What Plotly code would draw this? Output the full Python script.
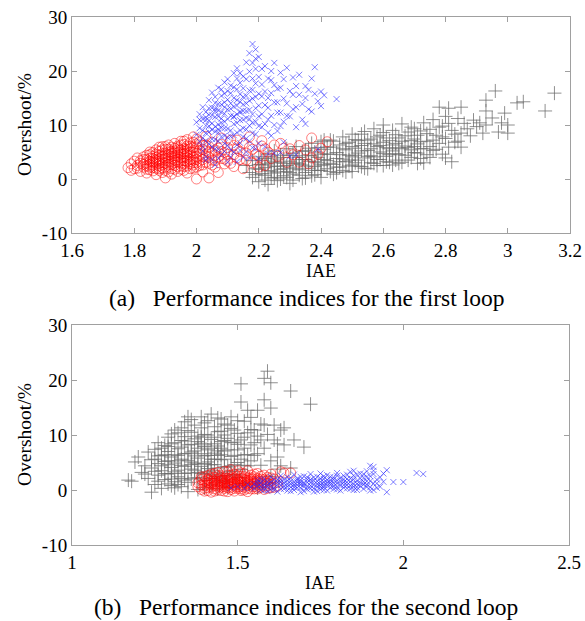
import plotly.graph_objects as go

# ---------------- Loop 1 data (IAE, Overshoot %) ----------------
loop1_red = [
    (1.78,2.1),(1.79,1.6),(1.79,2.8),(1.80,3.3),(1.80,1.9),(1.81,2.5),(1.81,3.9),(1.82,1.4),(1.82,2.9),(1.83,3.6),(1.83,2.2),(1.84,4.4),(1.84,1.1),(1.84,3.0),(1.85,2.6),(1.85,3.8),(1.85,5.0),(1.85,1.7),
    (1.86,4.2),(1.86,2.1),(1.86,3.3),(1.87,5.4),(1.87,0.8),(1.87,2.8),(1.87,4.6),(1.88,3.7),(1.88,1.6),(1.88,5.9),(1.88,2.4),(1.89,4.1),(1.89,3.0),(1.89,6.0),(1.89,1.2),(1.90,4.8),(1.90,2.2),(1.90,3.5),(1.90,0.2),(1.90,5.5),
    (1.91,3.9),(1.91,2.7),(1.91,6.3),(1.91,4.5),(1.92,1.9),(1.92,5.1),(1.92,3.2),(1.92,0.9),(1.93,4.3),(1.93,6.6),(1.93,2.5),(1.93,5.7),(1.94,3.6),(1.94,1.4),(1.94,4.9),(1.94,6.1),(1.95,2.9),(1.95,4.0),(1.95,5.4),(1.95,7.0),(1.95,1.8),
    (1.96,3.4),(1.96,4.7),(1.96,6.4),(1.96,2.3),(1.97,5.2),(1.97,3.9),(1.97,7.3),(1.97,1.1),(1.98,4.4),(1.98,6.0),(1.98,2.8),(1.98,5.6),(1.99,3.5),(1.99,4.9),(1.99,6.8),(1.99,2.0),(2.00,0.0),(2.00,4.1),(2.00,5.9),(2.00,3.0),(2.00,7.4),
    (2.01,4.6),(2.01,2.5),(2.02,5.5),(2.02,3.6),(2.02,1.3),(2.03,6.3),(2.03,4.2),(2.04,2.9),(2.04,0.2),(2.04,5.0),(2.05,3.5),(2.05,6.8),(2.06,4.4),(2.06,2.2),(2.07,5.7),(2.07,1.2),(2.08,3.8),(2.08,6.4),(2.09,4.9),(2.09,2.8),(2.10,5.8),(2.10,3.3),
    (2.11,7.2),(2.12,4.5),(2.12,2.3),(2.13,5.6),(2.14,3.6),(2.15,6.6),(2.15,1.9),(2.16,4.8),(2.17,7.8),(2.18,3.0),(2.18,5.5),(2.20,4.2),(2.21,6.1),(2.22,2.5),(2.24,3.8),(2.25,6.3),(2.23,5.0),
    (2.28,5.7),(2.29,3.1),(2.31,4.5),(2.33,3.1),(2.35,5.4),(2.37,3.9),(2.37,7.6),(2.40,5.7),(2.42,6.9),(2.39,4.6),
    (1.84,2.4),(1.86,3.0),(1.88,4.4),(1.90,3.9),(1.91,5.0),(1.92,4.2),(1.93,3.4),(1.94,5.4),(1.95,4.6),(1.96,5.6),(1.97,4.5),(1.98,3.6),(1.99,5.3),(1.87,3.5),(1.89,2.6),(1.93,4.8),(1.96,3.9),
    (1.81,2.0),(1.82,3.4),(1.83,2.7),(1.83,4.1),(1.84,1.8),(1.84,3.6),(1.85,2.2),(1.85,4.5),(1.85,3.2),(1.86,1.5),(1.86,2.6),(1.86,3.8),(1.86,4.9),(1.87,2.0),(1.87,3.1),(1.87,4.0),(1.88,2.9),(1.88,5.1),(1.88,3.3),(1.88,1.9),
    (1.89,3.6),(1.89,4.7),(1.89,2.1),(1.89,5.4),(1.90,2.9),(1.90,4.3),(1.90,1.6),(1.90,6.0),(1.91,3.3),(1.91,2.2),(1.91,5.5),(1.91,1.3),(1.92,2.7),(1.92,3.8),(1.92,4.7),(1.92,5.9),(1.93,3.0),(1.93,1.8),(1.93,5.2),(1.93,3.9),
    (1.94,2.3),(1.94,3.1),(1.94,4.3),(1.94,5.8),(1.95,3.4),(1.95,2.4),(1.95,4.9),(1.95,6.3),(1.96,2.9),(1.96,4.2),(1.96,5.1),(1.96,1.6),(1.96,7.0),(1.97,3.3),(1.97,4.8),(1.97,2.4),(1.97,6.1),(1.98,3.2),(1.98,4.9),(1.98,1.9),(1.98,6.7),
    (1.99,4.1),(1.99,2.6),(1.99,5.8),(1.99,3.0),(2.00,3.6),(2.00,4.8),(2.00,2.2),(2.00,6.5),(2.01,3.3),(2.01,5.3),(2.01,6.9),(2.02,4.1),(2.02,2.6),(2.02,6.2),(2.03,3.1),(2.03,5.2),(2.04,4.0),(2.04,6.0),(2.05,2.6),(2.05,4.8),
    (2.06,5.4),(2.06,3.4),(2.07,4.1),(2.08,5.1),(2.09,3.7),(2.10,4.6),(2.11,2.9),(2.12,6.2),(2.13,3.9),(2.14,5.1),(2.16,3.5),(2.17,5.9),(2.19,4.6),(2.20,2.2),(2.22,5.6),(2.26,4.2),(2.27,6.6),(2.30,5.6),(2.33,6.2),(2.36,2.8),
    (2.21,7.1),(2.13,7.2),(2.08,7.6),(2.03,7.9),(1.99,7.8),
]
loop1_blue = [
    (2.00,10.5),(2.00,8.2),(2.01,12.0),(2.01,6.9),(2.01,9.4),(2.02,11.1),(2.02,7.6),(2.02,13.3),(2.02,5.2),(2.03,9.9),(2.03,12.4),(2.03,8.5),(2.03,4.1),(2.04,10.8),(2.04,14.6),(2.04,6.5),(2.04,11.9),(2.05,9.1),(2.05,13.2),(2.05,7.4),(2.05,16.0),(2.05,3.6),
    (2.06,11.5),(2.06,8.8),(2.06,14.1),(2.06,5.6),(2.07,12.7),(2.07,10.1),(2.07,16.9),(2.07,7.0),(2.08,9.5),(2.08,13.8),(2.08,11.2),(2.08,4.5),(2.08,15.4),(2.09,12.1),(2.09,8.0),(2.09,17.9),(2.09,10.6),(2.10,14.7),(2.10,6.2),(2.10,12.9),(2.10,9.3),(2.10,18.5),(2.10,3.1),
    (2.11,11.7),(2.11,15.9),(2.11,7.9),(2.12,13.4),(2.12,10.2),(2.12,19.6),(2.12,5.0),(2.13,16.6),(2.13,12.0),(2.13,8.6),(2.13,20.5),(2.14,14.3),(2.14,10.9),(2.14,6.7),(2.14,17.8),(2.15,12.6),(2.15,15.2),(2.15,9.4),(2.15,4.0),(2.15,19.0),
    (2.16,11.3),(2.16,14.0),(2.16,21.6),(2.16,7.5),(2.17,16.4),(2.17,12.8),(2.17,23.3),(2.17,9.9),(2.18,25.0),(2.18,14.9),(2.18,10.4),(2.18,18.6),(2.18,5.8),(2.19,13.1),(2.19,20.4),(2.19,24.0),(2.19,8.3),(2.20,15.8),(2.20,11.6),(2.20,22.6),(2.20,3.8),
    (2.21,17.5),(2.21,9.6),(2.22,13.7),(2.22,20.9),(2.22,6.0),(2.23,15.0),(2.23,11.0),(2.24,18.3),(2.24,8.0),(2.25,14.2),(2.25,21.5),(2.25,4.8),(2.26,12.3),(2.26,16.7),(2.27,9.8),(2.27,19.7),(2.28,14.9),(2.28,6.8),(2.29,20.6),(2.29,11.7),(2.30,16.3),(2.30,4.2),
    (2.31,18.8),(2.31,12.9),(2.32,9.6),(2.33,15.6),(2.33,19.3),(2.34,13.9),(2.35,17.2),(2.35,10.2),(2.36,16.5),(2.37,12.5),(2.38,20.7),(2.38,15.8),(2.39,14.4),(2.40,13.5),(2.40,16.2),(2.39,5.5),(2.45,14.8),
    (2.03,10.9),(2.06,12.6),(2.08,10.4),(2.11,13.0),(2.12,11.6),(2.14,12.3),(2.16,9.2),(2.09,14.2),(2.13,14.6),(2.07,8.6),
    (2.01,11.0),(2.02,9.0),(2.02,6.0),(2.03,7.1),(2.03,11.4),(2.04,8.7),(2.04,9.8),(2.04,13.1),(2.05,10.3),(2.05,11.8),(2.05,5.9),(2.06,9.7),(2.06,13.0),(2.06,15.2),(2.06,7.3),(2.07,11.6),(2.07,13.9),(2.07,9.2),(2.07,5.5),
    (2.08,12.4),(2.08,16.6),(2.08,7.8),(2.09,9.4),(2.09,13.3),(2.09,15.8),(2.09,6.6),(2.10,11.1),(2.10,16.3),(2.10,7.7),(2.11,9.0),(2.11,14.0),(2.11,17.3),(2.11,5.4),(2.12,11.5),(2.12,15.0),(2.12,8.1),(2.12,17.0),
    (2.13,10.4),(2.13,13.6),(2.13,18.6),(2.13,6.3),(2.14,9.0),(2.14,12.5),(2.14,15.7),(2.14,19.6),(2.15,11.0),(2.15,13.8),(2.15,7.8),(2.15,16.8),(2.16,12.6),(2.16,15.4),(2.16,18.5),(2.16,5.0),
    (2.17,11.1),(2.17,14.5),(2.17,19.9),(2.17,7.0),(2.18,12.0),(2.18,16.5),(2.18,21.5),(2.18,8.5),(2.19,10.6),(2.19,15.2),(2.19,17.7),(2.19,22.3),(2.20,9.8),(2.20,13.6),(2.20,18.9),(2.20,6.6),
    (2.21,12.0),(2.21,15.3),(2.21,20.4),(2.22,10.2),(2.22,16.2),(2.23,13.2),(2.23,18.6),(2.23,8.6),(2.24,11.7),(2.24,15.9),(2.24,20.0),(2.25,10.0),(2.25,17.4),(2.26,14.2),(2.26,8.9),(2.27,12.3),(2.27,16.9),
    (2.28,10.6),(2.28,18.5),(2.29,14.0),(2.30,11.6),(2.31,15.6),(2.32,17.2),(2.32,13.3),(2.34,11.0),(2.35,15.0),(2.36,12.9),(2.37,18.6),(2.41,15.5),
    (2.03,3.5),(2.07,3.8),(2.11,4.1),(2.13,3.2),(2.17,3.9),(2.06,2.6),(2.09,5.1),(2.14,5.3),(2.19,5.6),(2.23,4.7),(2.27,4.9),(2.32,4.5),
]
loop1_gray = [
    (2.16,2.5),(2.17,1.2),(2.18,3.4),(2.18,0.3),(2.19,1.9),(2.20,4.1),(2.20,-0.5),(2.20,2.7),(2.21,1.0),(2.21,3.5),(2.22,0.7),(2.22,2.1),(2.23,4.6),(2.23,-1.0),(2.23,1.5),(2.24,3.0),(2.24,0.2),(2.25,2.4),(2.25,5.2),(2.25,1.1),
    (2.26,3.7),(2.26,-0.3),(2.27,1.8),(2.27,4.4),(2.28,0.6),(2.28,2.9),(2.29,5.6),(2.29,1.4),(2.30,3.3),(2.30,-0.8),(2.30,2.2),(2.31,4.8),(2.31,0.9),(2.32,3.0),(2.32,6.0),(2.33,1.7),(2.33,4.0),(2.34,0.1),(2.34,2.6),(2.35,5.3),(2.35,3.6),(2.35,1.2),
    (2.36,4.4),(2.36,2.0),(2.37,6.6),(2.37,0.6),(2.38,3.2),(2.38,5.0),(2.39,1.6),(2.39,4.0),(2.40,6.9),(2.40,2.6),(2.40,0.3),(2.41,5.5),(2.41,3.6),(2.42,1.9),(2.42,4.6),(2.43,7.2),(2.43,2.9),(2.44,0.9),(2.44,5.9),(2.45,3.8),(2.45,2.2),
    (2.46,6.3),(2.46,4.5),(2.47,1.6),(2.47,7.8),(2.48,3.2),(2.48,5.4),(2.49,2.4),(2.49,6.8),(2.50,4.1),(2.50,8.3),(2.50,1.4),(2.51,5.7),(2.51,3.0),(2.52,7.1),(2.52,4.8),(2.53,2.3),(2.53,6.2),(2.54,8.8),(2.54,3.9),(2.55,5.3),(2.55,1.9),
    (2.56,7.4),(2.56,4.3),(2.57,2.9),(2.57,9.3),(2.58,6.0),(2.58,3.6),(2.59,5.0),(2.59,8.1),(2.60,2.5),(2.60,6.8),(2.60,10.0),(2.61,4.2),(2.61,7.6),(2.62,5.6),(2.62,3.1),(2.63,9.0),(2.63,6.3),(2.64,4.7),(2.64,8.2),(2.65,2.9),(2.65,5.8),
    (2.66,7.0),(2.66,10.2),(2.67,4.4),(2.67,6.1),(2.68,8.7),(2.68,3.5),(2.69,5.4),(2.69,9.6),(2.70,7.4),(2.70,4.9),(2.71,6.5),(2.71,2.9),(2.72,8.9),(2.72,5.6),(2.73,3.0),(2.73,10.4),(2.74,7.0),(2.74,4.5),(2.75,6.0),(2.75,9.2),
    (2.76,11.0),(2.76,5.3),(2.77,8.1),(2.78,13.3),(2.78,6.6),(2.79,9.8),(2.80,3.9),(2.80,11.6),(2.80,7.5),(2.81,13.1),(2.82,3.2),(2.82,9.0),(2.83,6.8),(2.84,11.2),(2.85,13.3),(2.85,8.5),(2.85,5.9),(2.86,10.3),(2.88,8.0),(2.90,9.7),
    (2.91,10.4),(2.92,8.5),(2.93,12.6),(2.93,14.6),(2.95,11.3),(2.96,16.3),(2.97,8.7),(2.98,10.4),(2.99,12.2),(3.00,8.5),(3.00,10.0),(3.03,14.1),(3.05,14.3),(3.12,12.6),(3.15,15.9),
    (2.19,0.8),(2.20,1.8),(2.21,2.6),(2.22,3.8),(2.22,-0.2),(2.23,2.8),(2.24,1.5),(2.24,4.1),(2.25,0.3),(2.25,3.3),(2.26,1.3),(2.26,2.3),(2.27,0.0),(2.27,3.1),(2.28,1.9),(2.28,4.0),(2.29,2.5),(2.29,0.3),(2.30,1.2),(2.30,4.4),
    (2.31,2.8),(2.31,-0.2),(2.32,1.9),(2.32,4.3),(2.33,2.8),(2.33,0.7),(2.34,3.6),(2.34,5.1),(2.35,2.4),(2.35,0.2),(2.36,3.3),(2.36,5.7),(2.37,1.6),(2.37,4.3),(2.38,2.3),(2.38,0.8),(2.39,3.0),(2.39,5.8),(2.40,1.6),(2.40,4.6),
    (2.41,2.6),(2.41,7.2),(2.42,3.4),(2.42,5.9),(2.43,1.4),(2.43,4.6),(2.44,2.7),(2.44,7.0),(2.45,4.9),(2.45,1.2),(2.46,3.2),(2.46,2.2),(2.47,5.6),(2.47,3.7),(2.48,1.3),(2.48,6.6),(2.49,4.4),(2.49,3.5),(2.50,2.6),(2.50,6.0),
    (2.51,4.4),(2.51,7.3),(2.52,2.4),(2.52,3.5),(2.53,5.2),(2.53,8.3),(2.54,2.0),(2.54,6.6),(2.55,4.2),(2.55,7.2),(2.56,3.0),(2.56,5.6),(2.57,6.5),(2.57,4.1),(2.58,2.5),(2.58,7.8),(2.59,3.6),(2.59,6.2),(2.60,4.7),(2.60,8.6),
    (2.61,3.2),(2.61,5.8),(2.62,7.1),(2.62,4.5),(2.63,2.6),(2.63,5.2),(2.64,6.6),(2.64,3.5),(2.65,7.6),(2.65,4.5),(2.66,5.6),(2.66,3.1),(2.67,8.0),(2.68,5.8),(2.69,4.0),(2.69,7.1),(2.70,6.0),(2.70,9.3),(2.71,4.8),(2.71,8.1),
    (2.72,3.8),(2.72,6.9),(2.73,5.6),(2.74,8.4),(2.75,4.0),(2.76,7.2),(2.77,5.5),(2.78,9.6),(2.79,4.6),(2.79,7.8),(2.81,5.9),(2.81,10.3),(2.83,8.3),(2.84,7.0),(2.87,9.3),(2.89,10.9),(2.93,10.0),
]

# ---------------- Loop 2 data (IAE, Overshoot %) ----------------
loop2_gray = [
    (1.17,1.8),(1.18,1.6),(1.19,5.1),(1.20,6.0),(1.21,3.2),(1.22,4.4),(1.23,2.1),(1.23,6.9),(1.24,-0.4),(1.24,4.0),(1.25,1.0),(1.25,5.6),(1.25,7.4),(1.26,2.7),
    (1.26,4.8),(1.27,0.3),(1.27,6.3),(1.27,3.5),(1.28,8.1),(1.28,1.9),(1.28,5.2),(1.29,9.6),(1.29,2.9),(1.29,7.0),(1.30,4.1),(1.30,0.8),(1.30,10.2),(1.30,6.0),(1.31,3.3),(1.31,8.6),(1.31,1.5),(1.32,5.3),(1.32,7.5),(1.32,2.4),(1.32,10.4),
    (1.33,4.5),(1.33,0.6),(1.33,9.0),(1.34,6.6),(1.34,3.0),(1.34,12.4),(1.35,5.4),(1.35,1.4),(1.35,8.2),(1.35,13.3),(1.36,3.8),(1.36,10.5),(1.36,6.9),(1.37,2.2),(1.37,4.9),(1.37,9.3),(1.38,7.6),(1.38,0.1),(1.38,5.8),(1.38,3.2),(1.39,13.3),(1.39,11.3),
    (1.39,4.3),(1.39,8.5),(1.40,6.2),(1.40,1.8),(1.40,10.1),(1.40,2.9),(1.41,7.3),(1.41,5.1),(1.41,12.6),(1.42,3.6),(1.42,9.2),(1.42,0.9),(1.43,6.7),(1.43,11.5),(1.43,4.6),(1.44,13.1),(1.44,2.4),(1.44,8.0),(1.45,5.5),(1.45,10.7),(1.45,3.1),
    (1.46,7.1),(1.46,12.0),(1.46,1.6),(1.47,9.4),(1.47,4.2),(1.48,6.1),(1.48,11.2),(1.48,13.3),(1.49,2.8),(1.49,8.7),(1.50,5.0),(1.50,10.3),(1.50,7.3),(1.51,19.3),(1.51,16.0),(1.51,3.7),(1.52,9.6),(1.52,12.5),(1.52,6.4),
    (1.53,14.5),(1.53,4.4),(1.54,8.2),(1.54,11.0),(1.55,6.3),(1.56,14.5),(1.56,9.8),(1.57,9.1),(1.57,4.5),(1.58,16.4),(1.58,11.8),(1.58,20.3),(1.59,21.6),(1.60,14.9),(1.60,19.5),(1.61,9.1),(1.62,6.0),(1.63,10.9),(1.64,8.2),(1.64,11.3),(1.66,4.0),(1.66,18.0),(1.67,9.1),(1.70,7.8),(1.72,15.6),
    (1.47,0.5),(1.52,1.2),(1.56,0.4),(1.60,2.5),(1.62,3.8),
    (1.31,6.4),(1.33,7.8),(1.36,4.6),(1.38,9.8),(1.40,7.9),(1.42,5.6),(1.44,6.3),(1.46,9.0),(1.48,4.4),(1.34,8.9),(1.37,6.2),(1.41,3.9),(1.43,8.4),(1.29,4.6),(1.45,7.6),
    (1.22,2.9),(1.24,5.5),(1.25,3.4),(1.26,6.2),(1.26,1.6),(1.27,4.4),(1.27,7.6),(1.28,3.0),(1.28,6.4),(1.29,1.1),(1.29,5.3),(1.30,3.0),(1.30,8.4),(1.31,4.9),(1.31,0.4),(1.32,6.3),(1.32,3.6),(1.33,2.1),(1.33,5.6),(1.33,11.3),
    (1.34,4.3),(1.34,1.8),(1.34,9.7),(1.35,3.1),(1.35,6.6),(1.35,10.8),(1.36,2.0),(1.36,5.1),(1.36,8.3),(1.37,7.1),(1.37,3.6),(1.37,11.8),(1.38,4.7),(1.38,8.8),(1.38,2.2),(1.39,6.6),(1.39,3.0),(1.39,9.6),(1.40,4.8),(1.40,8.2),
    (1.40,12.2),(1.41,3.3),(1.41,6.3),(1.41,10.0),(1.42,4.6),(1.42,7.6),(1.42,2.1),(1.43,5.6),(1.43,9.6),(1.43,2.7),(1.44,7.1),(1.44,4.0),(1.44,10.6),(1.45,6.4),(1.45,2.0),(1.45,8.8),(1.46,4.2),(1.46,5.6),(1.46,10.0),(1.47,7.3),
    (1.47,2.6),(1.47,11.8),(1.48,8.6),(1.48,3.4),(1.49,6.3),(1.49,10.9),(1.49,4.6),(1.50,8.3),(1.50,2.3),(1.50,12.6),(1.51,5.6),(1.51,9.1),(1.52,7.6),(1.52,4.5),(1.53,10.4),(1.53,6.4),(1.54,5.3),(1.54,13.2),(1.55,8.6),(1.55,10.9),
    (1.56,6.6),(1.57,12.0),(1.58,7.6),(1.59,10.1),(1.60,5.3),(1.61,11.8),(1.62,8.4),(1.63,4.4),(1.29,7.9),(1.31,10.9),(1.36,12.8),(1.42,13.8),(1.45,12.9),(1.26,8.6),(1.40,0.4),(1.44,0.2),(1.35,-0.3),(1.30,2.0),(1.32,1.0),
]
loop2_red = [
    (1.38,0.6),(1.38,1.3),(1.39,0.1),(1.39,1.9),(1.40,0.8),(1.40,2.4),(1.40,-0.2),(1.41,1.4),(1.41,0.4),(1.41,2.0),(1.42,0.9),(1.42,2.9),(1.42,-0.4),(1.43,1.6),(1.43,0.2),(1.43,2.3),(1.44,1.1),(1.44,3.2),(1.44,0.5),(1.45,1.8),(1.45,-0.1),(1.45,2.6),(1.45,0.9),
    (1.46,1.4),(1.46,0.3),(1.46,2.1),(1.46,3.4),(1.47,0.8),(1.47,1.7),(1.47,-0.3),(1.47,2.7),(1.48,1.2),(1.48,0.1),(1.48,2.2),(1.48,3.7),(1.49,0.7),(1.49,1.5),(1.49,2.9),(1.49,-0.2),(1.50,1.0),(1.50,2.0),(1.50,0.3),(1.50,3.5),
    (1.51,1.3),(1.51,0.6),(1.51,2.5),(1.52,0.0),(1.52,1.8),(1.52,3.0),(1.52,0.9),(1.53,1.4),(1.53,2.2),(1.53,-0.3),(1.54,0.7),(1.54,1.9),(1.54,2.7),(1.55,1.1),(1.55,0.2),(1.55,2.4),(1.56,1.5),(1.56,0.5),(1.56,3.0),(1.57,0.9),(1.57,2.0),
    (1.58,1.3),(1.58,0.1),(1.58,2.7),(1.59,0.8),(1.59,1.8),(1.60,2.2),(1.60,0.4),(1.61,1.2),(1.62,0.7),(1.63,3.3),(1.64,3.1),(1.66,3.1),(1.60,2.9),
    (1.42,1.2),(1.44,2.0),(1.46,0.9),(1.48,1.6),(1.50,1.5),(1.52,2.0),(1.53,0.8),(1.55,1.6),(1.57,1.2),(1.40,1.6),(1.43,0.8),(1.45,1.3),(1.47,1.1),(1.49,1.0),(1.51,0.2),(1.54,1.3),(1.56,2.1),(1.58,1.9),
    (1.39,0.9),(1.40,1.2),(1.40,0.3),(1.41,1.8),(1.41,0.9),(1.41,-0.1),(1.42,0.5),(1.42,1.6),(1.42,2.2),(1.43,1.2),(1.43,-0.2),(1.43,1.9),(1.44,0.8),(1.44,1.5),(1.44,2.6),(1.44,0.0),(1.45,0.5),(1.45,1.6),(1.45,2.2),(1.46,0.6),
    (1.46,1.2),(1.46,1.8),(1.46,-0.2),(1.47,0.4),(1.47,1.4),(1.47,2.1),(1.48,0.5),(1.48,1.0),(1.48,1.9),(1.48,2.7),(1.49,0.3),(1.49,1.3),(1.49,2.2),(1.50,0.6),(1.50,1.2),(1.50,1.8),(1.50,2.6),(1.51,-0.1),(1.51,0.9),(1.51,1.6),
    (1.51,2.1),(1.52,0.5),(1.52,1.4),(1.52,2.4),(1.53,0.3),(1.53,1.1),(1.53,1.7),(1.54,0.2),(1.54,1.0),(1.54,1.6),(1.54,2.2),(1.55,0.6),(1.55,1.3),(1.55,2.0),(1.56,0.2),(1.56,0.9),(1.56,1.8),(1.57,0.5),(1.57,1.6),(1.57,2.5),
    (1.58,0.7),(1.58,1.5),(1.59,0.3),(1.59,1.2),(1.59,2.3),(1.60,1.0),(1.60,1.6),(1.61,0.5),(1.61,2.0),(1.62,1.4),(1.43,3.0),(1.47,3.3),(1.51,3.1),(1.53,3.5),(1.55,2.9),(1.41,2.6),(1.39,2.4),
]
loop2_blue = [
    (1.55,0.3),(1.55,1.1),(1.56,0.7),(1.56,1.8),(1.57,0.0),(1.57,1.3),(1.58,0.5),(1.58,2.0),(1.58,1.0),(1.59,-0.2),(1.59,1.5),(1.60,0.8),(1.60,2.4),(1.60,0.1),
    (1.61,1.2),(1.61,0.4),(1.62,1.9),(1.62,-0.3),(1.62,0.9),(1.63,1.5),(1.63,2.6),(1.63,0.2),(1.64,0.7),(1.64,1.9),(1.65,1.1),(1.65,-0.1),(1.65,2.3),(1.66,0.5),(1.66,1.6),
    (1.67,0.9),(1.67,2.8),(1.67,0.0),(1.68,1.4),(1.68,2.1),(1.68,0.4),(1.69,1.0),(1.69,-0.4),(1.69,1.8),(1.70,0.6),(1.70,2.5),(1.70,1.3),(1.71,0.1),(1.71,1.9),(1.72,0.8),(1.72,2.9),(1.72,1.4),
    (1.73,0.3),(1.73,1.7),(1.74,1.1),(1.74,2.4),(1.74,-0.2),(1.75,0.6),(1.75,1.5),(1.75,3.0),(1.76,0.9),(1.76,2.0),(1.76,0.0),(1.77,1.3),(1.77,2.7),(1.78,0.4),(1.78,1.8),(1.78,1.0),
    (1.79,0.2),(1.79,2.3),(1.80,1.2),(1.80,0.6),(1.80,3.1),(1.81,1.6),(1.81,-0.1),(1.82,0.9),(1.82,2.6),(1.82,1.9),(1.83,0.3),(1.83,1.4),(1.84,3.3),(1.84,0.8),(1.84,2.1),(1.85,3.5),(1.85,1.1),(1.85,0.0),
    (1.86,1.7),(1.86,2.8),(1.86,0.5),(1.87,1.3),(1.87,3.0),(1.88,0.2),(1.88,2.2),(1.88,1.0),(1.89,1.6),(1.89,3.4),(1.89,0.6),(1.90,2.5),(1.90,-0.1),(1.90,4.4),(1.91,1.2),(1.91,4.2),(1.91,2.9),(1.92,0.4),(1.92,1.9),(1.93,2.3),(1.94,1.5),(1.95,3.6),(1.95,-0.4),(1.97,1.45),(2.00,1.45),(2.04,3.1),(2.06,2.9),
    (1.48,0.4),(1.50,0.6),(1.52,0.3),(1.53,1.0),(1.54,0.5),
    (1.56,1.3),(1.57,0.6),(1.57,1.9),(1.58,0.0),(1.59,0.6),(1.59,1.0),(1.60,1.4),(1.61,0.0),(1.61,1.9),(1.62,1.4),(1.63,0.9),(1.63,1.9),(1.64,0.2),(1.64,1.3),(1.65,0.6),(1.65,1.7),(1.66,1.1),(1.66,2.2),(1.66,-0.2),(1.67,1.4),
    (1.67,0.5),(1.68,0.9),(1.68,1.8),(1.69,0.4),(1.69,1.4),(1.69,2.4),(1.70,1.0),(1.70,-0.2),(1.71,0.6),(1.71,1.4),(1.71,2.3),(1.72,0.3),(1.72,1.9),(1.73,1.0),(1.73,2.3),(1.73,-0.3),(1.74,0.6),(1.74,1.6),(1.75,1.0),(1.75,2.1),
    (1.75,0.1),(1.76,1.4),(1.76,2.5),(1.76,0.5),(1.77,0.8),(1.77,1.8),(1.77,-0.1),(1.78,1.4),(1.78,2.4),(1.79,0.7),(1.79,1.3),(1.79,1.9),(1.80,0.1),(1.80,1.7),(1.80,2.6),(1.81,0.9),(1.81,2.2),(1.82,0.4),(1.82,1.4),(1.83,0.9),
    (1.83,2.0),(1.83,2.8),(1.84,1.5),(1.84,0.2),(1.85,0.6),(1.85,1.9),(1.85,2.6),(1.86,1.1),(1.86,0.0),(1.87,0.7),(1.87,2.1),(1.88,1.5),(1.88,2.9),(1.89,1.0),(1.89,2.4),(1.90,0.5),(1.90,1.6),(1.91,0.0),(1.92,1.2),(1.93,0.6),
    (1.94,3.0),(1.91,3.5),
]

x_ticks_a = [1.6, 1.8, 2.0, 2.2, 2.4, 2.6, 2.8, 3.0, 3.2]
x_tick_text_a = ["1.6", "1.8", "2", "2.2", "2.4", "2.6", "2.8", "3", "3.2"]
x_ticks_b = [1.0, 1.5, 2.0, 2.5]
x_tick_text_b = ["1", "1.5", "2", "2.5"]
y_ticks = [-10, 0, 10, 20, 30]
y_tick_text = ["-10", "0", "10", "20", "30"]

FONT = "Liberation Serif"
GRAY = "rgba(105,105,105,0.75)"
BLUE = "rgba(40,40,255,0.6)"
RED = "rgba(255,0,0,0.5)"


def xs(pts):
    return [p[0] for p in pts]


def ys(pts):
    return [p[1] for p in pts]


fig = go.Figure()


def add(pts, kind, xa, ya):
    if kind == "gray":
        m = dict(symbol="cross-thin", size=10, line=dict(color=GRAY, width=1))
    elif kind == "blue":
        m = dict(symbol="x-thin", size=6, line=dict(color=BLUE, width=1))
    else:
        m = dict(symbol="circle-open", size=10, color=RED, line=dict(color=RED, width=1))
    fig.add_trace(go.Scatter(x=xs(pts), y=ys(pts), mode="markers", marker=m,
                             xaxis=xa, yaxis=ya, showlegend=False, hoverinfo="skip"))


add(loop1_gray, "gray", "x", "y")
add(loop1_red, "red", "x", "y")
add(loop1_blue, "blue", "x", "y")
add(loop2_gray, "gray", "x2", "y2")
add(loop2_red, "red", "x2", "y2")
add(loop2_blue, "blue", "x2", "y2")

W, H = 585, 621
axis_common = dict(showline=True, linecolor="#a0a0a0", linewidth=1, mirror="ticks",
                   ticks="inside", ticklen=5, tickcolor="#a0a0a0", showgrid=False,
                   zeroline=False, automargin=False,
                   tickfont=dict(family=FONT, size=19, color="black"))

fig.update_layout(
    width=W, height=H, margin=dict(l=0, r=0, t=0, b=0),
    paper_bgcolor="white", plot_bgcolor="white",
    xaxis=dict(domain=[72 / W, 570 / W], range=[1.6, 3.2], anchor="y",
               tickvals=x_ticks_a, ticktext=x_tick_text_a, **axis_common),
    yaxis=dict(domain=[1 - 233 / H, 1 - 17 / H], range=[-10, 30], anchor="x",
               tickvals=y_ticks, ticktext=y_tick_text, **axis_common),
    xaxis2=dict(domain=[72 / W, 569 / W], range=[1.0, 2.5], anchor="y2",
                tickvals=x_ticks_b, ticktext=x_tick_text_b, **axis_common),
    yaxis2=dict(domain=[1 - 545 / H, 1 - 325 / H], range=[-10, 30], anchor="x2",
                tickvals=y_ticks, ticktext=y_tick_text, **axis_common),
)

texts = [
    dict(text="IAE", x=321 / W, y=1 - 271 / H, size=18, angle=0),
    dict(text="Overshoot/%", x=24 / W, y=1 - 125 / H, size=19.5, angle=-90),
    dict(text="(a)\u2002 Performance indices for the first loop", x=306 / W, y=1 - 298 / H, size=23.5, angle=0),
    dict(text="IAE", x=320 / W, y=1 - 583 / H, size=18, angle=0),
    dict(text="Overshoot/%", x=24 / W, y=1 - 435 / H, size=19.5, angle=-90),
    dict(text="(b)\u2002 Performance indices for the second loop", x=306 / W, y=1 - 607 / H, size=23.5, angle=0),
]
for t in texts:
    fig.add_annotation(text=t["text"], x=t["x"], y=t["y"], xref="paper", yref="paper",
                       showarrow=False, textangle=t["angle"], xanchor="center", yanchor="middle",
                       font=dict(family=FONT, size=t["size"], color="black"))

fig.write_html("out.html")
